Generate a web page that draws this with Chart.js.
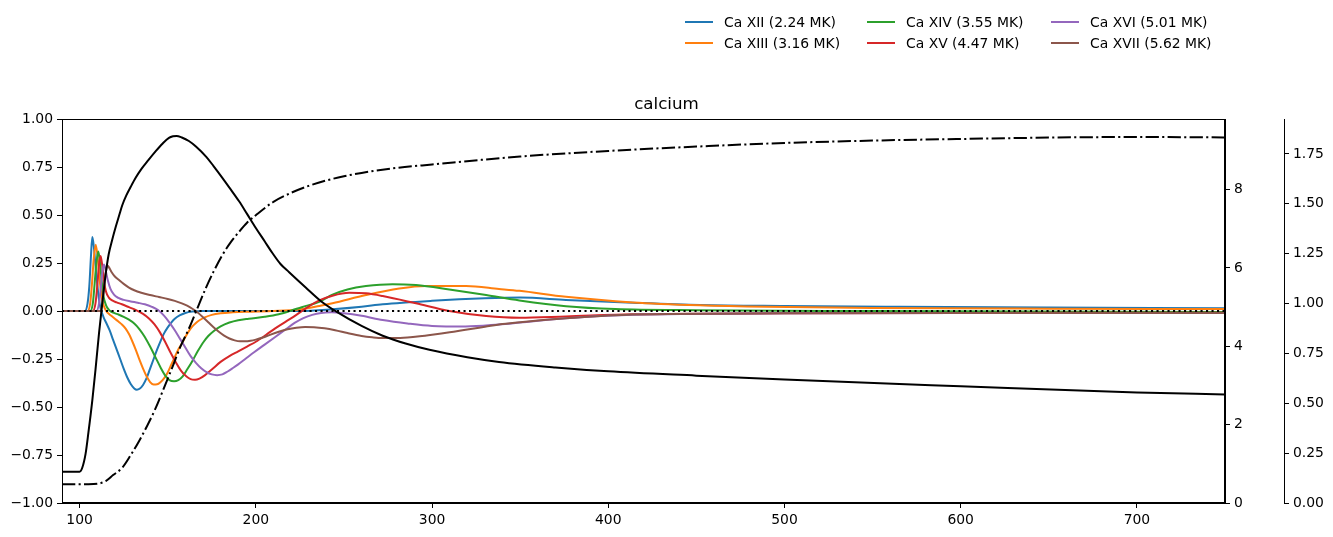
<!DOCTYPE html>
<html>
<head>
<meta charset="utf-8">
<script src="https://cdn.jsdelivr.net/npm/chart.js@4.4.1/dist/chart.umd.min.js"></script>
<style>
  html, body { margin: 0; padding: 0; background: #fff; }
  #wrap { position: relative; width: 1333px; height: 537px; }
  .leg { position: absolute; height: 16px; line-height: 16px; font-family: "DejaVu Sans", sans-serif; font-size: 13.9px; color: #000; white-space: nowrap; }
  .leg .sw { display: inline-block; width: 28px; height: 2px; vertical-align: middle; margin-right: 11px; position: relative; top: -1px; }
</style>
</head>
<body>
<div id="wrap">
  <canvas id="c" width="1333" height="537"></canvas>
  <div id="legend"></div>
</div>
<script>
// ion names and colours (legend order)
const ionNames = ["Ca XII (2.24 MK)", "Ca XIII (3.16 MK)", "Ca XIV (3.55 MK)",
                  "Ca XV (4.47 MK)", "Ca XVI (5.01 MK)", "Ca XVII (5.62 MK)"];
const ionColors = ["#1f77b4", "#ff7f0e", "#2ca02c", "#d62728", "#9467bd", "#8c564b"];

// tick labels
const xTicks = [100, 200, 300, 400, 500, 600, 700];
const leftTicks = [-1, -0.75, -0.5, -0.25, 0, 0.25, 0.5, 0.75, 1];
const tempTicks = [0, 2, 4, 6, 8];
const densTicks = [0, 0.25, 0.5, 0.75, 1, 1.25, 1.5, 1.75];

// Ca XII
const caXII_x = [90, 103, 104.5, 105.5, 106.4, 107.2, 108, 109, 110, 111, 112, 113.5, 115, 117, 119, 121, 123, 125, 127, 129, 131, 132.5, 134, 136, 138, 140, 142, 144, 146, 148, 150, 152, 154, 157, 160, 164, 170, 200, 225, 243.5, 260, 272, 300, 330, 350, 376, 414, 452, 500, 565, 650, 750];
const caXII_y = [0, 0, 0.04, 0.13, 0.28, 0.385, 0.34, 0.24, 0.14, 0.06, 0.01, -0.03, -0.06, -0.1, -0.15, -0.2, -0.25, -0.3, -0.345, -0.38, -0.403, -0.41, -0.405, -0.385, -0.35, -0.3, -0.25, -0.2, -0.155, -0.115, -0.085, -0.06, -0.04, -0.022, -0.01, -0.003, 0, 0, 0, 0.009, 0.022, 0.035, 0.053, 0.066, 0.07, 0.058, 0.043, 0.031, 0.026, 0.022, 0.018, 0.014];

// Ca XIII
const caXIII_x = [90, 104.5, 106, 107, 108, 109.1, 110, 111, 112, 113, 114.5, 116, 118, 120, 122, 124, 126, 128, 130, 132, 134, 136, 138, 140, 142, 144, 146, 148, 150, 152, 154, 156, 158, 160, 162, 164, 166, 168, 171, 175, 180, 187, 194, 210, 224.6, 236, 243.5, 262.5, 281.4, 296.6, 319.3, 338, 349.6, 376, 414, 452, 490, 550, 650, 750];
const caXIII_y = [0, 0, 0.04, 0.14, 0.27, 0.345, 0.3, 0.2, 0.11, 0.05, 0.01, -0.01, -0.025, -0.04, -0.055, -0.07, -0.09, -0.12, -0.16, -0.205, -0.255, -0.3, -0.34, -0.37, -0.383, -0.382, -0.37, -0.35, -0.32, -0.28, -0.24, -0.2, -0.17, -0.135, -0.105, -0.08, -0.062, -0.048, -0.033, -0.02, -0.012, -0.007, -0.004, 0, 0.008, 0.026, 0.04, 0.083, 0.117, 0.13, 0.13, 0.115, 0.105, 0.074, 0.045, 0.03, 0.022, 0.016, 0.012, 0.01];

// Ca XIV
const caXIV_x = [90, 106, 107.5, 108.5, 109.5, 110.6, 111.5, 112.5, 113.5, 115, 117, 119.5, 122, 125, 128, 131, 134, 137, 140, 143, 146, 148.5, 151, 153.6, 156, 158.5, 161, 164, 167, 170, 173, 176, 180, 185, 190, 196, 205, 213, 220, 226, 236, 243.5, 252, 262.5, 277.6, 290.9, 309.8, 330.7, 349.6, 376, 404, 450, 550, 750];
const caXIV_y = [0, 0, 0.04, 0.14, 0.25, 0.31, 0.26, 0.16, 0.08, 0.03, 0.003, -0.01, -0.018, -0.03, -0.045, -0.065, -0.095, -0.135, -0.185, -0.24, -0.295, -0.335, -0.36, -0.366, -0.36, -0.34, -0.305, -0.26, -0.21, -0.165, -0.13, -0.105, -0.08, -0.06, -0.048, -0.04, -0.03, -0.017, 0.002, 0.02, 0.048, 0.085, 0.112, 0.13, 0.14, 0.135, 0.112, 0.083, 0.055, 0.025, 0.01, 0.004, 0, -0.005];

// Ca XV
const caXV_x = [90, 107.5, 109, 110, 111, 111.9, 112.8, 113.8, 115, 116.6, 118.5, 121, 124, 128, 132, 136, 139.5, 142.5, 145.5, 148.5, 151.5, 154.5, 157.5, 160.5, 163, 165.5, 168, 171, 175, 180, 185, 190, 195, 200, 205.7, 211, 217, 223, 228.4, 236, 243.5, 253, 262.5, 272, 290.9, 309.8, 330.7, 349.6, 376, 414, 500, 600, 750];
const caXV_y = [0, 0, 0.04, 0.13, 0.24, 0.287, 0.24, 0.16, 0.1, 0.07, 0.055, 0.045, 0.035, 0.02, 0.005, -0.015, -0.04, -0.07, -0.11, -0.16, -0.215, -0.265, -0.31, -0.34, -0.355, -0.358, -0.352, -0.335, -0.305, -0.265, -0.235, -0.21, -0.185, -0.16, -0.125, -0.09, -0.055, -0.02, 0.014, 0.055, 0.08, 0.095, 0.092, 0.078, 0.04, 0, -0.026, -0.035, -0.028, -0.017, -0.012, -0.01, -0.009];

// Ca XVI
const caXVI_x = [90, 109.5, 111, 112, 113, 113.8, 114.8, 116, 117.5, 119.5, 122, 125, 129, 133, 137, 141, 144.5, 148, 151, 154, 157, 160, 163, 166, 169, 172, 175, 178, 181, 184, 187, 190, 194, 199, 205, 211, 217, 222, 227, 232, 237, 243, 250, 260, 272, 286, 300, 319, 338, 350, 376, 414, 500, 600, 750];
const caXVI_y = [0, 0, 0.04, 0.12, 0.21, 0.242, 0.21, 0.16, 0.115, 0.085, 0.068, 0.058, 0.05, 0.043, 0.035, 0.022, 0.005, -0.025, -0.06, -0.1, -0.145, -0.19, -0.235, -0.27, -0.298, -0.318, -0.33, -0.334, -0.33, -0.315, -0.297, -0.278, -0.25, -0.215, -0.175, -0.135, -0.095, -0.062, -0.037, -0.02, -0.01, -0.007, -0.012, -0.025, -0.047, -0.065, -0.078, -0.081, -0.07, -0.06, -0.038, -0.02, -0.012, -0.01, -0.01];

// Ca XVII
const caXVII_x = [90, 111.5, 113, 114, 115, 115.7, 116.5, 118, 120, 122.5, 125.2, 128, 131, 135, 140, 145, 150, 154, 158, 161, 164, 167, 170, 173, 176, 179, 182, 185, 188, 191, 194, 197, 200, 204, 208, 213, 218, 223, 228, 233, 239, 245, 252, 260, 266, 272, 279, 286, 293, 300, 310, 320, 330, 340, 350, 376, 414, 500, 600, 750];
const caXVII_y = [0, 0, 0.05, 0.14, 0.21, 0.238, 0.23, 0.205, 0.18, 0.16, 0.14, 0.122, 0.108, 0.095, 0.083, 0.073, 0.063, 0.053, 0.04, 0.028, 0.012, -0.008, -0.032, -0.058, -0.085, -0.108, -0.128, -0.143, -0.153, -0.158, -0.158, -0.155, -0.149, -0.138, -0.124, -0.108, -0.095, -0.087, -0.083, -0.084, -0.09, -0.1, -0.115, -0.13, -0.137, -0.141, -0.141, -0.138, -0.132, -0.124, -0.111, -0.096, -0.082, -0.068, -0.058, -0.038, -0.018, -0.012, -0.01, -0.01];

// temperature (MK), right axis
const temp_x = [90, 100, 101.5, 103.4, 105, 107.2, 109, 111, 113, 114.8, 116.5, 118.5, 120.5, 122.5, 124.2, 126.5, 129, 131.8, 135, 139, 143.2, 147, 150.7, 153, 155, 158, 162, 166, 172, 176, 181, 185, 190.5, 195, 200, 205, 209.4, 214, 218.9, 228.3, 237, 245.5, 260, 272, 285, 298.5, 320, 338, 370, 400, 450, 500, 600, 700, 750];
const temp_y = [0.8, 0.8, 0.9, 1.26, 1.8, 2.62, 3.4, 4.33, 5.15, 5.85, 6.35, 6.72, 7.05, 7.35, 7.6, 7.85, 8.07, 8.3, 8.52, 8.75, 8.98, 9.17, 9.32, 9.36, 9.37, 9.33, 9.24, 9.1, 8.83, 8.6, 8.3, 8.05, 7.7, 7.38, 7.02, 6.68, 6.38, 6.1, 5.89, 5.5, 5.15, 4.89, 4.52, 4.27, 4.07, 3.91, 3.72, 3.6, 3.46, 3.36, 3.25, 3.15, 2.98, 2.82, 2.77];

// density, second right axis
const dens_x = [90, 105, 110, 114.8, 119, 124.2, 129, 133.7, 138.5, 143.2, 148, 152.6, 157, 162.1, 167, 171.6, 176, 181, 186, 190.5, 195, 200, 210, 220, 230, 240, 250, 260, 280, 300, 350, 400, 450, 500, 550, 600, 650, 700, 750];
const dens_y = [0.094, 0.094, 0.096, 0.11, 0.14, 0.177, 0.24, 0.31, 0.39, 0.477, 0.58, 0.68, 0.78, 0.876, 0.98, 1.077, 1.16, 1.243, 1.31, 1.36, 1.405, 1.443, 1.51, 1.555, 1.59, 1.617, 1.638, 1.655, 1.68, 1.697, 1.737, 1.765, 1.787, 1.805, 1.817, 1.825, 1.832, 1.835, 1.833];

const ionX = [caXII_x, caXIII_x, caXIV_x, caXV_x, caXVI_x, caXVII_x];
const ionY = [caXII_y, caXIII_y, caXIV_y, caXV_y, caXVI_y, caXVII_y];

function pts(xs, ys) {
  return xs.map((x, i) => ({ x: x, y: ys[i] }));
}

const FONT = "DejaVu Sans";
const tickFont = { family: FONT, size: 13.9 };

const datasets = [];
// black lines on top
datasets.push({
  data: pts(temp_x, temp_y), yAxisID: "y1", borderColor: "#000", borderWidth: 2,
  pointRadius: 0, cubicInterpolationMode: "monotone", order: 0
});
datasets.push({
  data: pts(dens_x, dens_y), yAxisID: "y2", borderColor: "#000", borderWidth: 2,
  borderDash: [13.3, 3.3, 2.1, 3.3], pointRadius: 0, cubicInterpolationMode: "monotone", order: 1
});
datasets.push({
  data: [{ x: 90, y: 0 }, { x: 750, y: 0 }], yAxisID: "y", borderColor: "#000", borderWidth: 2,
  borderDash: [2.1, 3.4], pointRadius: 0, order: 2
});
ionNames.forEach((name, i) => {
  datasets.push({
    label: name,
    data: pts(ionX[i], ionY[i]),
    yAxisID: "y",
    borderColor: ionColors[i],
    borderWidth: 2,
    pointRadius: 0,
    cubicInterpolationMode: "monotone",
    order: 10 - i
  });
});

const frame = {
  id: "frame",
  afterDatasetsDraw(chart) {
    const a = chart.chartArea;
    const ctx = chart.ctx;
    ctx.save();
    ctx.strokeStyle = "#000";
    ctx.lineWidth = 1;
    ctx.strokeRect(Math.round(a.left) + 0.5, Math.round(a.top) + 0.5,
      Math.round(a.right - a.left) - 1, Math.round(a.bottom - a.top) - 1);
    ctx.restore();
  }
};

function axisGrid() {
  return { drawOnChartArea: false, drawTicks: true, tickLength: 5, color: "#000", lineWidth: 1 };
}

new Chart(document.getElementById("c"), {
  type: "line",
  data: { datasets: datasets },
  options: {
    responsive: false,
    animation: false,
    devicePixelRatio: 1,
    layout: { padding: { top: 95, left: 0, right: 0, bottom: 0 } },
    plugins: {
      legend: { display: false },
      tooltip: { enabled: false },
      title: {
        display: true, text: "calcium", color: "#000",
        font: { family: FONT, size: 16.7, weight: "normal" },
        padding: { top: 0, bottom: 4 }
      }
    },
    scales: {
      x: {
        type: "linear", min: 90, max: 750,
        afterBuildTicks: (s) => { s.ticks = xTicks.map((v) => ({ value: v })); },
        afterFit: (s) => { s.height = 34; },
        ticks: { color: "#000", font: tickFont, padding: 4, maxRotation: 0, callback: (v) => String(v) },
        grid: axisGrid(),
        border: { display: true, color: "#000", width: 1 }
      },
      y: {
        type: "linear", position: "left", min: -1, max: 1,
        afterBuildTicks: (s) => { s.ticks = leftTicks.map((v) => ({ value: v })); },
        afterFit: (s) => { s.width = 62; },
        ticks: {
          color: "#000", font: tickFont, padding: 4,
          callback: (v) => (v < 0 ? "\u2212" : "") + Math.abs(v).toFixed(2)
        },
        grid: axisGrid(),
        border: { display: true, color: "#000", width: 1 }
      },
      y1: {
        type: "linear", position: "right", min: 0, max: 9.8, weight: 1,
        afterBuildTicks: (s) => { s.ticks = tempTicks.map((v) => ({ value: v })); },
        afterFit: (s) => { s.width = 59; },
        ticks: { color: "#000", font: tickFont, padding: 4, callback: (v) => String(v) },
        grid: axisGrid(),
        border: { display: true, color: "#000", width: 1 }
      },
      y2: {
        type: "linear", position: "right", min: 0, max: 1.925, weight: 2,
        afterBuildTicks: (s) => { s.ticks = densTicks.map((v) => ({ value: v })); },
        afterFit: (s) => { s.width = 49; },
        ticks: { color: "#000", font: tickFont, padding: 4, callback: (v) => v.toFixed(2) },
        grid: axisGrid(),
        border: { display: true, color: "#000", width: 1 }
      }
    }
  },
  plugins: [frame]
});

// legend: three columns of two rows, like the figure legend
const legend = document.getElementById("legend");
const colLeft = [685, 867, 1051];
const rowMid = [22, 43];
ionNames.forEach((name, i) => {
  const item = document.createElement("div");
  item.className = "leg";
  item.style.left = colLeft[Math.floor(i / 2)] + "px";
  item.style.top = (rowMid[i % 2] - 8) + "px";
  const sw = document.createElement("span");
  sw.className = "sw";
  sw.style.background = ionColors[i];
  item.appendChild(sw);
  item.appendChild(document.createTextNode(name));
  legend.appendChild(item);
});
</script>
</body>
</html>
